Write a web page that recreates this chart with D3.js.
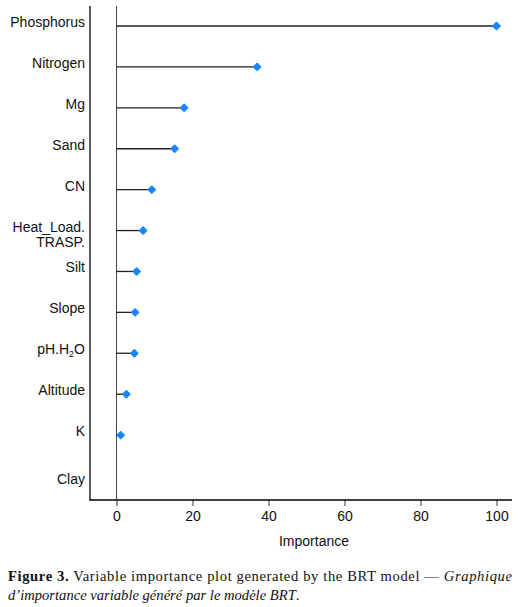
<!DOCTYPE html>
<html><head><meta charset="utf-8">
<script src="https://cdn.jsdelivr.net/npm/d3@7"></script>
<style>body{margin:0;background:#fff}svg{display:block}</style>
</head><body>
<svg id="c" width="523" height="607"></svg>
<script>
const variables = ["Phosphorus","Nitrogen","Mg","Sand","CN","Heat_Load.TRASP.","Silt","Slope","pH.H2O","Altitude","K","Clay"];
const importance = [100, 37.0, 17.8, 15.3, 9.3, 7.0, 5.3, 4.9, 4.7, 2.6, 1.1, 0];
const xTicks = [0, 20, 40, 60, 80, 100];
const xTitle = "Importance";

const svg = d3.select("#c");
const sans = "'Liberation Sans', Arial, Helvetica, sans-serif";
const x = d3.scaleLinear().domain([0, 100]).range([116.5, 496.5]);
const y = d3.scalePoint().domain(variables).range([26, 476]);

// frame: left and bottom
svg.append("line").attr("x1", 90).attr("x2", 90).attr("y1", 6).attr("y2", 500.5)
  .attr("stroke", "#000").attr("stroke-width", 1.3);
const xa = svg.append("g").attr("transform", "translate(0,500)")
  .call(d3.axisBottom(x).tickValues(xTicks).tickSize(6).tickPadding(5).tickFormat(d3.format("d")));
xa.select(".domain").remove();
xa.append("line").attr("x1", 89.5).attr("x2", 512).attr("y1", 0).attr("y2", 0)
  .attr("stroke", "#000").attr("stroke-width", 1.3);
xa.selectAll(".tick line").attr("stroke", "#333");
xa.selectAll(".tick text").attr("font-family", sans).attr("font-size", 14).attr("fill", "#111");

// zero reference line
svg.append("line").attr("x1", x(0)).attr("x2", x(0)).attr("y1", 6).attr("y2", 500)
  .attr("stroke", "#444").attr("stroke-width", 1);

svg.append("text").attr("x", 314).attr("y", 546).attr("text-anchor", "middle")
  .attr("font-family", sans).attr("font-size", 14).attr("fill", "#111").text(xTitle);

// stems
svg.append("g").selectAll("line").data(variables).join("line")
  .attr("x1", x(0)).attr("x2", (d, i) => x(importance[i]))
  .attr("y1", d => y(d)).attr("y2", d => y(d))
  .attr("stroke", "#222").attr("stroke-width", 1.3);

// points
const sym = d3.symbol().type(d3.symbolSquare).size(22);
svg.append("g").selectAll("path").data(variables.filter((d, i) => importance[i] > 0)).join("path")
  .attr("d", sym)
  .attr("transform", d => `translate(${x(importance[variables.indexOf(d)])},${y(d)}) rotate(45)`)
  .attr("fill", "#1a86ff").attr("stroke", "#1a86ff").attr("stroke-width", 1.8).attr("stroke-linejoin", "round");

// labels
const lab = svg.append("g").attr("font-family", sans).attr("font-size", 14).attr("fill", "#111").attr("text-anchor", "end");
variables.forEach(v => {
  const t = lab.append("text").attr("x", 85).attr("y", y(v) + 1);
  if (v === "Heat_Load.TRASP.") {
    t.attr("y", y(v) + 1);
    t.append("tspan").attr("x", 85).text("Heat_Load.");
    t.append("tspan").attr("x", 85).attr("dy", 15.5).text("TRASP.");
  } else if (v === "pH.H2O") {
    t.append("tspan").text("pH.H");
    t.append("tspan").attr("font-size", 9).attr("dy", 3).text("2");
    t.append("tspan").attr("dy", -3).text("O");
  } else if (v === "Clay") {
    t.attr("y", y(v) + 8).text(v);
  } else {
    t.text(v);
  }
});

// caption
const serif = "'Liberation Serif', 'Times New Roman', serif";
const c1 = svg.append("text").attr("x", 8).attr("y", 581).attr("font-family", serif).attr("font-size", 14.6).attr("fill", "#111")
  .attr("textLength", 504).attr("lengthAdjust", "spacing");
c1.append("tspan").attr("font-weight", "bold").text("Figure 3.");
c1.append("tspan").text(" Variable importance plot generated by the BRT model \u2014 ");
c1.append("tspan").attr("font-style", "italic").text("Graphique");
const c2 = svg.append("text").attr("x", 8).attr("y", 600).attr("font-family", serif).attr("font-size", 14.6).attr("fill", "#111");
c2.append("tspan").attr("font-style", "italic").text("d\u2019importance variable g\u00e9n\u00e9r\u00e9 par le mod\u00e8le BRT");
c2.append("tspan").text(".");
</script>
</body></html>
